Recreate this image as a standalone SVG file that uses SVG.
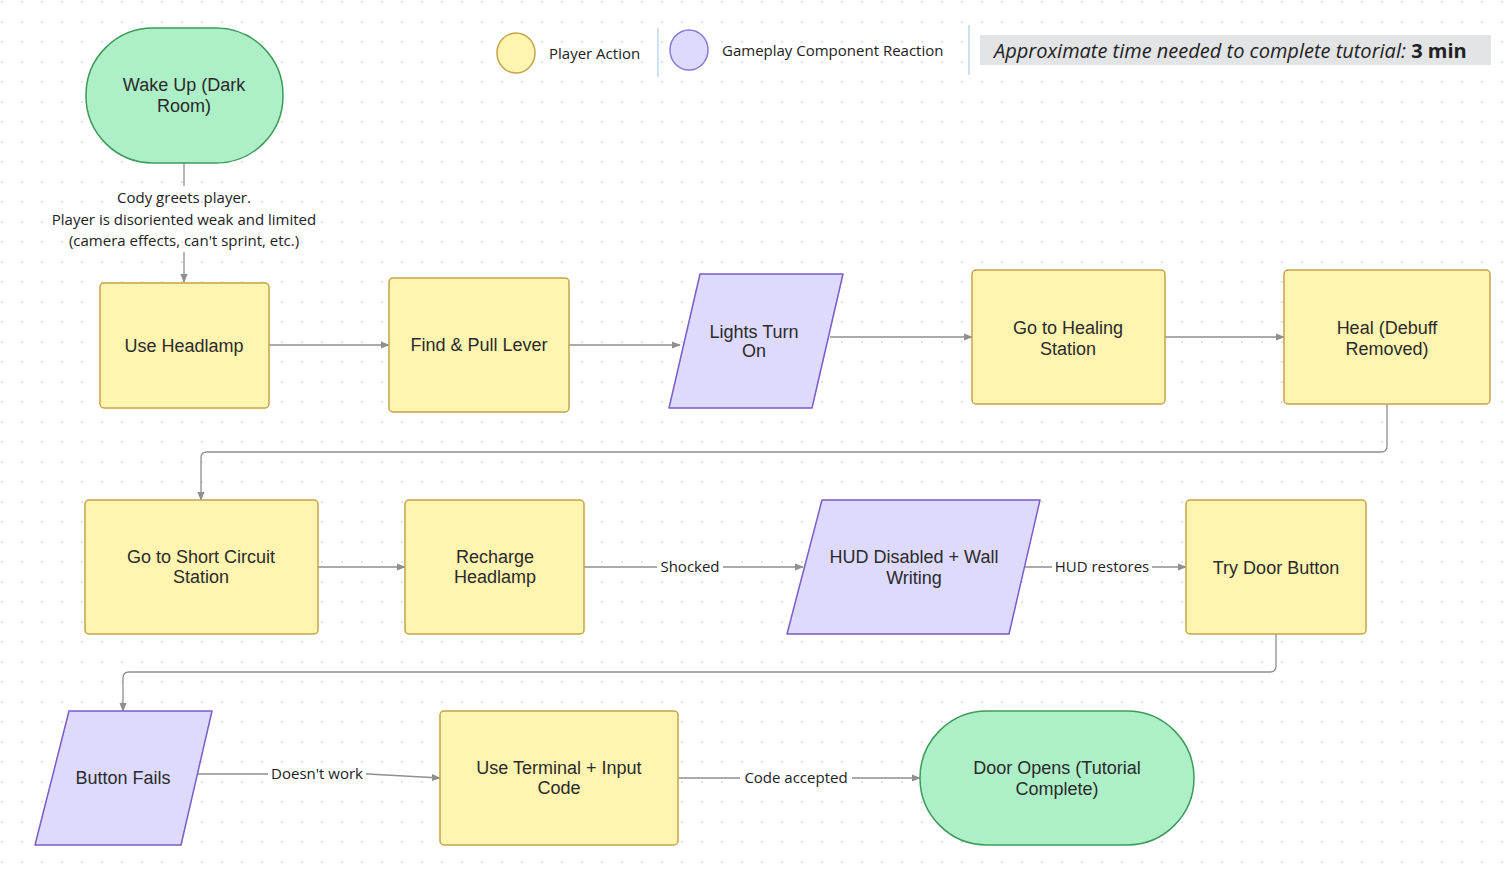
<svg xmlns="http://www.w3.org/2000/svg" width="1505" height="871" viewBox="0 0 1505 871">
<style>
.t{font-family:"Liberation Sans",Arial,sans-serif;font-size:18px;fill:#2b2b2b;text-anchor:middle}
.l{font-family:"Open Sans","Noto Sans",sans-serif;font-size:15px;fill:#222;text-anchor:middle}
.y{fill:#FFF4B0;stroke:#C4A448;stroke-width:1.5}
.p{fill:#DDDAFD;stroke:#7B5CC8;stroke-width:1.5}
.g{fill:#ADEFC6;stroke:#3E9A5A;stroke-width:1.5}
.c{fill:none;stroke:#8f8f8f;stroke-width:1.3}
.lb{fill:#fff}
</style>
<defs>
<pattern id="dots" width="20" height="20" patternUnits="userSpaceOnUse"><circle cx="2" cy="2" r="0.9" fill="#d6d6d6"/></pattern>
<marker id="a" viewBox="0 0 10 10" refX="9" refY="5" markerWidth="7" markerHeight="7" orient="auto"><path d="M0,1 L10,5 L0,9 Z" fill="#8f8f8f"/></marker>
</defs>
<rect width="1505" height="871" fill="#fff"/>
<rect width="1505" height="871" fill="url(#dots)"/>
<g id="legend">
<ellipse cx="516" cy="53" rx="19" ry="20" fill="#FFF4B0" stroke="#C4A448" stroke-width="1.5"/>
<text x="549" y="59" font-family="Open Sans,sans-serif" font-size="15" fill="#222">Player Action</text>
<line x1="658" y1="28" x2="658" y2="77" stroke="#cfe0ee" stroke-width="2"/>
<ellipse cx="689" cy="50" rx="19" ry="20" fill="#DDDAFD" stroke="#8A78D8" stroke-width="1.5"/>
<text x="722" y="56" font-family="Open Sans,sans-serif" font-size="15" fill="#222">Gameplay Component Reaction</text>
<line x1="969" y1="25" x2="969" y2="75" stroke="#cfe0ee" stroke-width="2"/>
<rect x="980" y="35" width="511" height="30" fill="#e3e4e6"/>
<text x="994" y="58" font-family="Open Sans,sans-serif" font-size="20" fill="#222"><tspan font-style="italic">Approximate time needed to complete tutorial: </tspan><tspan font-weight="bold">3 min</tspan></text>
</g>
<g id="connectors">
<path class="c" d="M184,163 V186"/>
<path class="c" d="M184,252 V282" marker-end="url(#a)"/>
<text class="l" x="184" y="203">Cody greets player.</text>
<text class="l" x="184" y="225">Player is disoriented weak and limited</text>
<text class="l" x="184" y="246">(camera effects, can't sprint, etc.)</text>
<path class="c" d="M269,345 H389" marker-end="url(#a)"/>
<path class="c" d="M569,345 H680" marker-end="url(#a)"/>
<path class="c" d="M830,337 H972" marker-end="url(#a)"/>
<path class="c" d="M1165,337 H1284" marker-end="url(#a)"/>
<path class="c" d="M1387,404 V446 Q1387,452 1381,452 H207 Q201,452 201,458 V500" marker-end="url(#a)"/>
<path class="c" d="M318,567 H405" marker-end="url(#a)"/>
<path class="c" d="M584,567 H803" marker-end="url(#a)"/>
<rect class="lb" x="657" y="557" width="66" height="20"/>
<text class="l" x="690" y="572">Shocked</text>
<path class="c" d="M1024,567 H1186" marker-end="url(#a)"/>
<rect class="lb" x="1052" y="557" width="100" height="20"/>
<text class="l" x="1102" y="572">HUD restores</text>
<path class="c" d="M1276,634 V666 Q1276,672 1270,672 H129 Q123,672 123,678 V711" marker-end="url(#a)"/>
<path class="c" d="M197,774 H368 L440,778" marker-end="url(#a)"/>
<rect class="lb" x="268" y="764" width="98" height="20"/>
<text class="l" x="317" y="779">Doesn't work</text>
<path class="c" d="M678,778 H920" marker-end="url(#a)"/>
<rect class="lb" x="740" y="768" width="112" height="20"/>
<text class="l" x="796" y="783">Code accepted</text>
</g>
<g id="wake"><rect class="g" x="86" y="28" width="197" height="135" rx="67"/><text class="t" x="184" y="91">Wake Up (Dark</text><text class="t" x="184" y="112">Room)</text></g>
<g id="headlamp"><rect class="y" x="100" y="283" width="169" height="125" rx="4"/><text class="t" x="184" y="352">Use Headlamp</text></g>
<g id="lever"><rect class="y" x="389" y="278" width="180" height="134" rx="4"/><text class="t" x="479" y="351">Find &amp; Pull Lever</text></g>
<g id="lights"><path class="p" d="M700,274 H843 L812,408 H669 Z" stroke-linejoin="round"/><text class="t" x="754" y="338">Lights Turn</text><text class="t" x="754" y="357">On</text></g>
<g id="healing"><rect class="y" x="972" y="270" width="193" height="134" rx="4"/><text class="t" x="1068" y="334">Go to Healing</text><text class="t" x="1068" y="355">Station</text></g>
<g id="heal"><rect class="y" x="1284" y="270" width="206" height="134" rx="4"/><text class="t" x="1387" y="334">Heal (Debuff</text><text class="t" x="1387" y="355">Removed)</text></g>
<g id="short"><rect class="y" x="85" y="500" width="233" height="134" rx="4"/><text class="t" x="201" y="563">Go to Short Circuit</text><text class="t" x="201" y="583">Station</text></g>
<g id="recharge"><rect class="y" x="405" y="500" width="179" height="134" rx="4"/><text class="t" x="495" y="563">Recharge</text><text class="t" x="495" y="583">Headlamp</text></g>
<g id="hud"><path class="p" d="M822,500 H1040 L1009,634 H787 Z" stroke-linejoin="round"/><text class="t" x="914" y="563">HUD Disabled + Wall</text><text class="t" x="914" y="584">Writing</text></g>
<g id="door"><rect class="y" x="1186" y="500" width="180" height="134" rx="4"/><text class="t" x="1276" y="574">Try Door Button</text></g>
<g id="fails"><path class="p" d="M69,711 H212 L181,845 H35 Z" stroke-linejoin="round"/><text class="t" x="123" y="784">Button Fails</text></g>
<g id="terminal"><rect class="y" x="440" y="711" width="238" height="134" rx="4"/><text class="t" x="559" y="774">Use Terminal + Input</text><text class="t" x="559" y="794">Code</text></g>
<g id="opens"><rect class="g" x="920" y="711" width="274" height="134" rx="67"/><text class="t" x="1057" y="774">Door Opens (Tutorial</text><text class="t" x="1057" y="795">Complete)</text></g>
</svg>
